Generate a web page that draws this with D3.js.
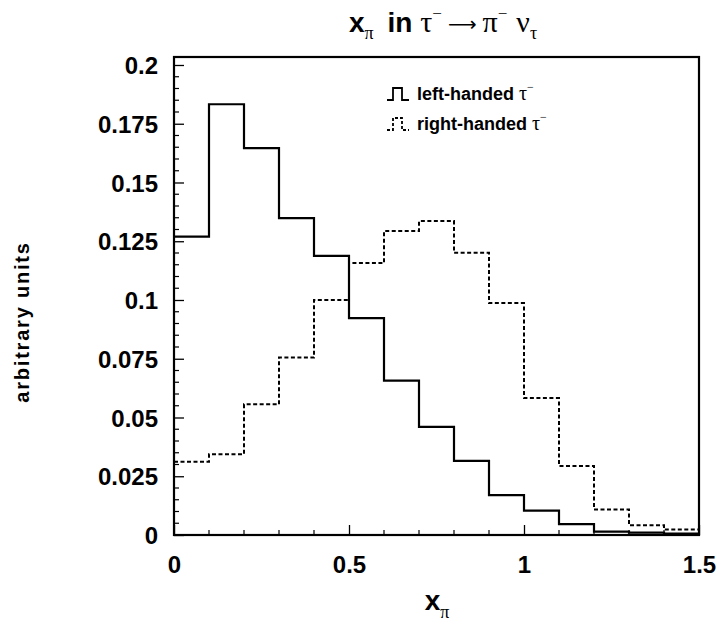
<!DOCTYPE html>
<html>
<head>
<meta charset="utf-8">
<script src="https://cdn.jsdelivr.net/npm/d3@7"></script>
<style>
  body { margin: 0; background: #fff; }
  svg { display: block; }
</style>
</head>
<body>
<svg id="chart" width="723" height="629"></svg>
<script>
// Bin edges of the x_pi histogram (15 bins of width 0.1)
const binEdges = [0, 0.1, 0.2, 0.3, 0.4, 0.5, 0.6, 0.7, 0.8, 0.9, 1.0, 1.1, 1.2, 1.3, 1.4, 1.5];
// Bin contents, arbitrary units
const leftHanded  = [0.127, 0.1833, 0.1646, 0.1348, 0.1188, 0.0923, 0.0657, 0.046, 0.0315, 0.017, 0.0104, 0.0046, 0.0014, 0.001, 0.0006];
const rightHanded = [0.0312, 0.0344, 0.0556, 0.0755, 0.1, 0.1157, 0.1294, 0.1336, 0.1201, 0.0987, 0.0583, 0.0294, 0.0109, 0.0041, 0.0023];
// Axis ticks
const yTickValues = [0, 0.025, 0.05, 0.075, 0.1, 0.125, 0.15, 0.175, 0.2];
const xTickValues = [0, 0.5, 1, 1.5];
const seriesLabels = ["left-handed τ", "right-handed τ"];

const svg = d3.select("#chart");
const plot = { left: 174, right: 699, top: 57, bottom: 535 };

const x = d3.scaleLinear().domain([0, 1.5]).range([plot.left, plot.right]);
const y = d3.scaleLinear().domain([0, 0.2034]).range([plot.bottom, plot.top]);

const SANS = "'Liberation Sans', Arial, Helvetica, sans-serif";
const GREEK = "'Liberation Serif', 'DejaVu Serif', serif";

// minor ticks
const yMinor = d3.range(0, 0.2001, 0.005).filter(v => Math.abs(v / 0.025 - Math.round(v / 0.025)) > 1e-6);
const xMinor = d3.range(0, 1.5001, 0.1).filter(v => Math.abs(v / 0.5 - Math.round(v / 0.5)) > 1e-6);

const fmt = v => v === 0 ? "0" : String(+v.toFixed(3));

// left axis: labels + major ticks pointing inward
const gy = svg.append("g").attr("transform", `translate(${plot.left},0)`)
  .call(d3.axisLeft(y).tickValues(yTickValues).tickFormat(fmt).tickSize(-10).tickPadding(16));
gy.select(".domain").remove();
gy.selectAll(".tick line").attr("stroke", "#000").attr("stroke-width", 1.3);
gy.selectAll(".tick text").attr("font-family", SANS).attr("font-weight", "bold")
  .attr("font-size", 24).attr("fill", "#000").attr("dy", "0.36em");

svg.append("g").selectAll("line").data(yMinor).join("line")
  .attr("x1", plot.left).attr("x2", plot.left + 5)
  .attr("y1", d => y(d)).attr("y2", d => y(d))
  .attr("stroke", "#000").attr("stroke-width", 1.2);

// bottom axis
const gx = svg.append("g").attr("transform", `translate(0,${plot.bottom})`)
  .call(d3.axisBottom(x).tickValues(xTickValues).tickFormat(d3.format("")).tickSize(-10).tickPadding(21));
gx.select(".domain").remove();
gx.selectAll(".tick line").attr("stroke", "#000").attr("stroke-width", 1.3);
gx.selectAll(".tick text").attr("font-family", SANS).attr("font-weight", "bold")
  .attr("font-size", 24).attr("fill", "#000");

svg.append("g").selectAll("line").data(xMinor).join("line")
  .attr("x1", d => x(d)).attr("x2", d => x(d))
  .attr("y1", plot.bottom).attr("y2", plot.bottom - 5)
  .attr("stroke", "#000").attr("stroke-width", 1.2);

// histogram outlines
function stepPoints(values) {
  const pts = values.map((v, i) => [binEdges[i], v]);
  pts.push([binEdges[binEdges.length - 1], values[values.length - 1]]);
  return pts;
}
const line = d3.line().x(d => x(d[0])).y(d => y(d[1])).curve(d3.curveStepAfter);

svg.append("path").attr("d", line(stepPoints(rightHanded)))
  .attr("fill", "none").attr("stroke", "#000").attr("stroke-width", 2)
  .attr("stroke-dasharray", "4,2.5");
svg.append("path").attr("d", line(stepPoints(leftHanded)))
  .attr("fill", "none").attr("stroke", "#000").attr("stroke-width", 2.2);

// frame
svg.append("rect").attr("x", plot.left).attr("y", plot.top)
  .attr("width", plot.right - plot.left).attr("height", plot.bottom - plot.top)
  .attr("fill", "none").attr("stroke", "#000").attr("stroke-width", 2.2);

// title: x_pi in tau- -> pi- nu_tau
const title = svg.append("text").attr("x", 443).attr("y", 32)
  .attr("text-anchor", "middle").attr("fill", "#000")
  .attr("font-family", SANS).attr("font-weight", "bold").attr("font-size", 28);
const g = sel => sel.attr("font-family", GREEK).attr("font-weight", "normal");
title.append("tspan").text("x");
title.append("tspan").call(g).attr("font-size", 18).attr("dy", 7).text("π");
title.append("tspan").attr("dy", -7).attr("dx", 14).text("in ");
title.append("tspan").call(g).attr("font-size", 30).text("τ");
title.append("tspan").call(g).attr("font-size", 17).attr("dy", -13).text("−");
title.append("tspan").attr("font-family", "'DejaVu Sans', sans-serif").attr("font-weight", "normal")
  .attr("font-size", 20).attr("dy", 12).attr("dx", 6).text("⟶");
title.append("tspan").call(g).attr("font-size", 30).attr("dy", 1).attr("dx", 6).text("π");
title.append("tspan").call(g).attr("font-size", 17).attr("dy", -13).text("−");
title.append("tspan").call(g).attr("font-size", 30).attr("dy", 13).attr("dx", 9).text("ν");
title.append("tspan").call(g).attr("font-size", 18).attr("dy", 7).text("τ");

// axis titles
const xt = svg.append("text").attr("x", 437).attr("y", 610)
  .attr("text-anchor", "middle").attr("fill", "#000")
  .attr("font-family", SANS).attr("font-weight", "bold").attr("font-size", 28);
xt.append("tspan").text("x");
xt.append("tspan").call(g).attr("font-size", 18).attr("dy", 8).text("π");

svg.append("text").attr("transform", "translate(29,322) rotate(-90)")
  .attr("text-anchor", "middle").attr("fill", "#000")
  .attr("font-family", SANS).attr("font-weight", "bold").attr("font-size", 20)
  .attr("letter-spacing", 1.8)
  .text("arbitrary units");

// legend
const legend = svg.append("g");
const legendRows = [
  { label: seriesLabels[0], dash: null, yPos: 100 },
  { label: seriesLabels[1], dash: "3,2", yPos: 130 }
];
legendRows.forEach(r => {
  const x0 = 387, base = r.yPos;
  const p = d3.path();
  p.moveTo(x0, base); p.lineTo(x0 + 6, base); p.lineTo(x0 + 6, base - 12);
  p.lineTo(x0 + 15, base - 12); p.lineTo(x0 + 15, base); p.lineTo(x0 + 22, base);
  legend.append("path").attr("d", p.toString()).attr("fill", "none")
    .attr("stroke", "#000").attr("stroke-width", 1.8)
    .attr("stroke-dasharray", r.dash);
  const t = legend.append("text").attr("x", x0 + 30).attr("y", base)
    .attr("fill", "#000").attr("font-family", SANS).attr("font-weight", "bold").attr("font-size", 18);
  const parts = r.label.split(" ");
  t.append("tspan").text(parts[0] + " ");
  t.append("tspan").call(g).attr("font-size", 20).text(parts[1]);
  t.append("tspan").call(g).attr("font-size", 12).attr("dy", -9).text("−");
});
</script>
</body>
</html>
